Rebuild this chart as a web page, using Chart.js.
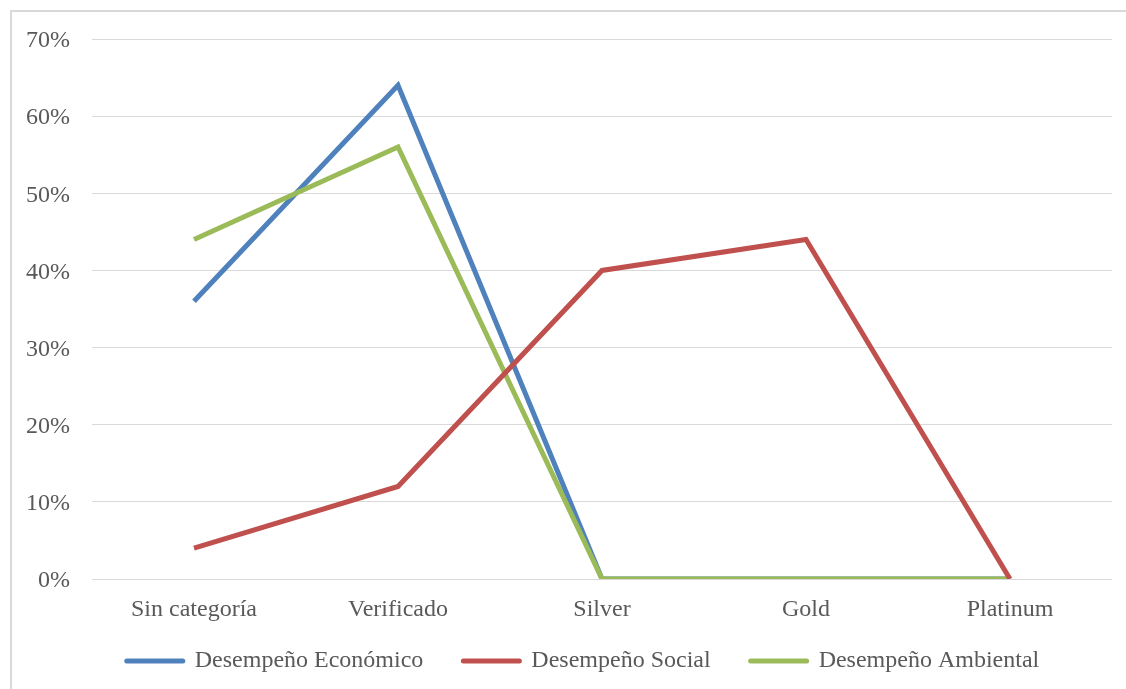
<!DOCTYPE html>
<html>
<head>
<meta charset="utf-8">
<script src="https://cdn.jsdelivr.net/npm/chart.js@4.4.1/dist/chart.umd.min.js"></script>
<style>
  html, body { margin: 0; padding: 0; background: #ffffff; }
  #wrap { position: relative; width: 1126px; height: 689px; overflow: hidden; }
  #frame { position: absolute; left: 10px; top: 10px; width: 1200px; height: 800px;
           border: 2px solid #d9d9d9; box-sizing: border-box; }
  #chart { position: absolute; left: 0; top: 0; }
</style>
</head>
<body>
<div id="wrap">
  <div id="frame"></div>
  <canvas id="chart" width="1126" height="689"></canvas>
</div>
<script>
// Categorías y porcentajes por tipo de desempeño
const categories = ['Sin categoría', 'Verificado', 'Silver', 'Gold', 'Platinum'];
const economico = [0.36, 0.64, 0, 0, 0];
const social    = [0.04, 0.12, 0.40, 0.44, 0];
const ambiental = [0.44, 0.56, 0, 0, 0];
const seriesNames = ['Desempeño Económico', 'Desempeño Social', 'Desempeño Ambiental'];

const FONT = "'Liberation Serif', 'Times New Roman', serif";
const TEXT = '#595959';
const GRID = '#d9d9d9';

function serie(label, data, color, order) {
  return {
    label, data, order,
    borderColor: color,
    backgroundColor: color,
    borderWidth: 5,
    borderCapStyle: 'butt',
    borderJoinStyle: 'miter',
    pointRadius: 0,
    pointHoverRadius: 0,
    pointStyle: 'line',
    tension: 0,
    fill: false
  };
}

// Sube la leyenda y la desplaza para dejarla bajo las etiquetas del eje X
const legendPlacement = {
  id: 'legendPlacement',
  afterLayout(chart) {
    const lg = chart.legend;
    if (!lg) return;
    const dy = -20, dx = 27;
    lg.top += dy; lg.bottom += dy;
    lg.left += dx; lg.right += dx;
  }
};

new Chart(document.getElementById('chart'), {
  type: 'line',
  data: {
    labels: categories,
    datasets: [
      serie(seriesNames[0], economico, '#4f81bd', 3),
      serie(seriesNames[1], social, '#c0504d', 1),
      serie(seriesNames[2], ambiental, '#9bbb59', 2)
    ]
  },
  plugins: [legendPlacement],
  options: {
    responsive: false,
    animation: false,
    events: [],
    layout: { padding: { top: 39, left: 0, right: 14, bottom: -14 } },
    scales: {
      x: {
        offset: true,
        grid: { display: false, drawTicks: false },
        border: { display: false },
        ticks: { color: TEXT, font: { family: FONT, size: 24 }, padding: 16, maxRotation: 0 },
        afterFit: s => { s.height = 50; }
      },
      y: {
        min: 0, max: 0.7,
        grid: { color: GRID, lineWidth: 1, drawTicks: false },
        border: { display: false },
        ticks: {
          stepSize: 0.1, padding: 22, labelOffset: 2, color: TEXT,
          font: { family: FONT, size: 24 },
          callback: v => Math.round(v * 100) + '%'
        },
        afterFit: s => { s.width = 92; }
      }
    },
    plugins: {
      tooltip: { enabled: false },
      legend: {
        position: 'bottom',
        labels: {
          usePointStyle: true,
          pointStyleWidth: 56,
          padding: 40,
          color: TEXT,
          font: { family: FONT, size: 24 },
          sort: (a, b) => a.datasetIndex - b.datasetIndex,
          generateLabels: chart => {
            const items = Chart.defaults.plugins.legend.labels.generateLabels(chart);
            items.forEach(it => { it.lineCap = 'round'; it.lineWidth = 5; });
            return items;
          }
        }
      }
    }
  }
});
</script>
</body>
</html>
